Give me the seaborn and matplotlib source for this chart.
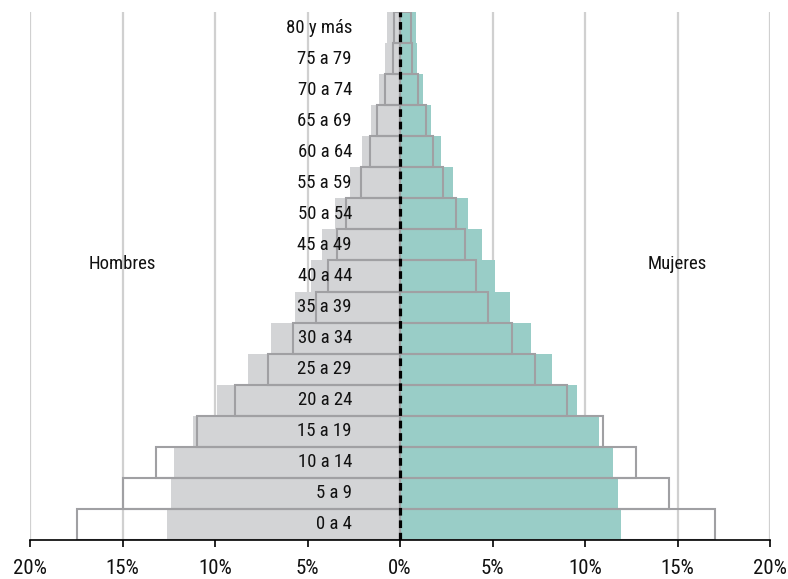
import matplotlib
matplotlib.use("Agg")
import matplotlib.pyplot as plt
import seaborn as sns
import pandas as pd
import numpy as np

# Age groups, top to bottom
ages = ["80 y más", "75 a 79", "70 a 74", "65 a 69", "60 a 64", "55 a 59", "50 a 54",
        "45 a 49", "40 a 44", "35 a 39", "30 a 34", "25 a 29", "20 a 24", "15 a 19",
        "10 a 14", "5 a 9", "0 a 4"]

# Filled bars (current year), percent of population
men_fill = [0.7, 0.8, 1.13, 1.57, 2.05, 2.7, 3.5, 4.2, 4.8, 5.7, 7.0, 8.2, 9.9, 11.2, 12.2, 12.4, 12.6]
women_fill = [0.87, 0.9, 1.25, 1.68, 2.2, 2.88, 3.67, 4.43, 5.12, 5.95, 7.08, 8.2, 9.55, 10.75, 11.5, 11.8, 11.95]

# Outline bars (reference year)
men_line = [0.33, 0.4, 0.83, 1.23, 1.63, 2.1, 2.93, 3.42, 3.9, 4.55, 5.77, 7.15, 8.9, 11.0, 13.2, 15.0, 17.45]
women_line = [0.59, 0.66, 0.99, 1.41, 1.8, 2.32, 3.02, 3.52, 4.1, 4.75, 6.05, 7.3, 9.04, 10.99, 12.77, 14.55, 17.0]

xticks = [-20, -15, -10, -5, 0, 5, 10, 15, 20]

sns.set_theme(style="white")
plt.rcParams["font.family"] = ["Roboto Condensed", "Liberation Sans Narrow", "Open Sans Condensed", "DejaVu Sans"]

GRAY = "#d3d4d6"
TEAL = "#99cdc7"
EDGE = "#a0a0a3"

fig = plt.figure(figsize=(7.88, 5.79), dpi=100)
ax = fig.add_axes([30/788, 39/579, 740/788, 528/579])

df_m = pd.DataFrame({"age": ages, "v": [-v for v in men_fill]})
df_w = pd.DataFrame({"age": ages, "v": women_fill})
df_ml = pd.DataFrame({"age": ages, "v": [-v for v in men_line]})
df_wl = pd.DataFrame({"age": ages, "v": women_line})

sns.barplot(data=df_m, x="v", y="age", order=ages, orient="h", color=GRAY,
            saturation=1, width=1.0, linewidth=0, ax=ax, zorder=2)
sns.barplot(data=df_w, x="v", y="age", order=ages, orient="h", color=TEAL,
            saturation=1, width=1.0, linewidth=0, ax=ax, zorder=2)
sns.barplot(data=df_ml, x="v", y="age", order=ages, orient="h", color=EDGE,
            fill=False, saturation=1, width=1.0, linewidth=1.5, ax=ax, zorder=3)
sns.barplot(data=df_wl, x="v", y="age", order=ages, orient="h", color=EDGE,
            fill=False, saturation=1, width=1.0, linewidth=1.5, ax=ax, zorder=3)

ax.set_xlim(-20, 20)
ax.set_ylim(len(ages) - 0.5, -0.5)

# grid
for t in xticks:
    if t != 0:
        ax.axvline(t, color="#d0d0d0", lw=1.6, zorder=0)
ax.axvline(0, color="black", lw=2.3, ls=(0, (2.4, 1.5)), zorder=5)

for i, a in enumerate(ages):
    ax.text(-2.6, i, a, ha="right", va="center", fontsize=13.5, color="#111111", zorder=6)

ax.text(-15, 7.6, "Hombres", ha="center", va="center", fontsize=13.5, color="#111111")
ax.text(15, 7.6, "Mujeres", ha="center", va="center", fontsize=13.5, color="#111111")

ax.set_xticks(xticks)
ax.set_xticklabels([f"{abs(t)}%" for t in xticks], fontsize=15, color="#111111")
ax.set_yticks([])
ax.set_xlabel("")
ax.set_ylabel("")
for s in ["left", "right", "top"]:
    ax.spines[s].set_visible(False)
ax.spines["bottom"].set_color("black")
ax.spines["bottom"].set_linewidth(1.2)
ax.spines["bottom"].set_zorder(6)
ax.tick_params(axis="x", direction="out", length=5, width=1.2, color="black", pad=9, bottom=True)
ax.grid(False)

fig.savefig("out.png", dpi=100)
